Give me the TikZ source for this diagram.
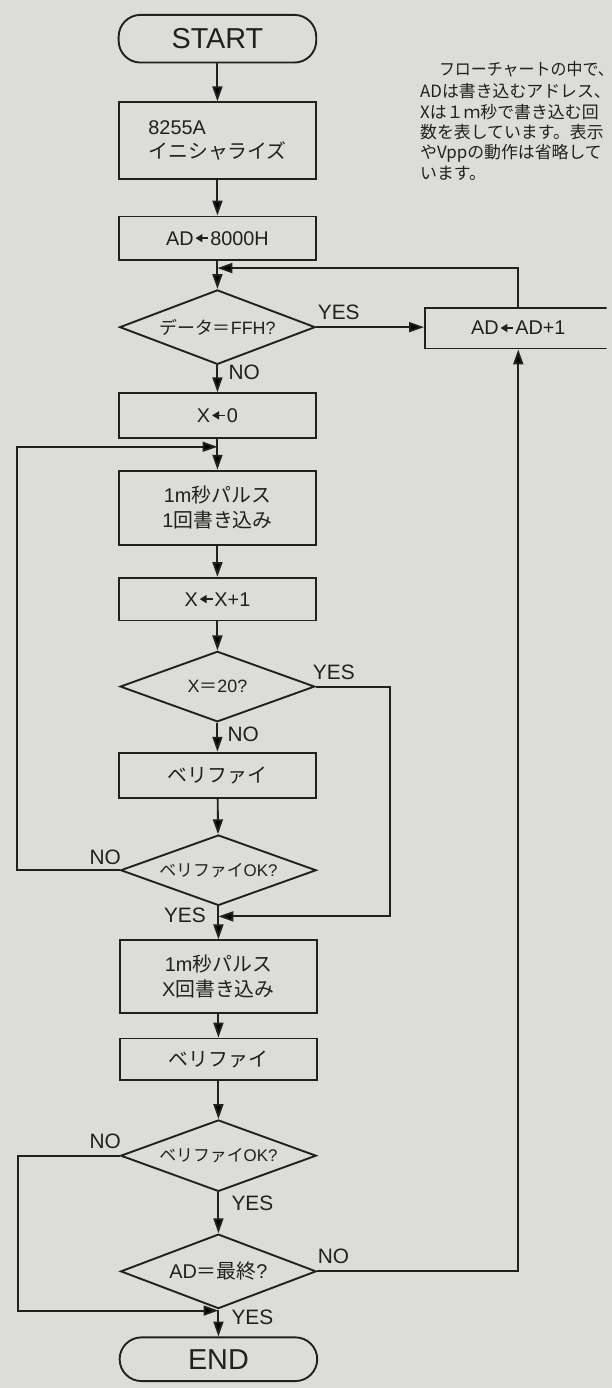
\documentclass[tikz,border=0pt]{standalone}
\usepackage{fontspec}
\usepackage{graphicx}
\setmainfont{Liberation Sans}
\newfontfamily\jp{Noto Sans CJK JP}
\usetikzlibrary{shapes.geometric,arrows.meta}
\definecolor{paper}{RGB}{220,220,217}
\definecolor{ink}{RGB}{32,32,32}
\newcommand{\la}{\kern1pt\tikz[x=1pt,y=1pt,baseline=-7pt]{\draw[ink,line width=1.8pt,{Triangle[length=7pt,width=8pt]}-] (0,0)--(13,0);}\kern1pt}
\newcommand{\J}[1]{{\jp #1}}
\begin{document}
\begin{tikzpicture}[x=1pt,y=-1pt,
  box/.style={draw=ink, line width=1.9pt, rectangle, minimum width=199pt, inner sep=0pt,
    font=\fontsize{20}{24}\selectfont, text=ink, align=center},
  term/.style={box, rounded corners=22pt, font=\fontsize{29}{32}\selectfont},
  dia/.style={draw=ink, line width=1.9pt, diamond, aspect=2.7, inner sep=0pt, minimum width=197pt,
    font=\fontsize{18}{22}\selectfont, text=ink},
  lbl/.style={font=\fontsize{21}{24}\selectfont, text=ink, inner sep=0pt, anchor=west},
  note/.style={font=\jp\fontsize{17}{21}\selectfont, text=ink, inner sep=0pt, anchor=base west},
  arr/.style={draw=ink, line width=1.9pt, -{Triangle[length=15pt,width=10pt]}},
  ln/.style={draw=ink, line width=1.9pt}]
\fill[paper] (-5,-5) rectangle (611,1393);
\useasboundingbox (0,0) rectangle (606,1388);
\begin{scope}
\clip (0,0) rectangle (606,1388);
% nodes
\node[term, minimum height=48pt] (start) at (214,34) {START};
\node[box, minimum height=77pt, text width=139pt, align=left, inner xsep=30pt] (init) at (214,136.5) {8255A\\\J{イニシャライズ}};
\node[box, minimum height=44pt] (ad8000) at (214,235) {AD\la8000H};
\coordinate (c1) at (214,265);
\node[dia, minimum height=75pt] (d1) at (214,324.5) {\J{データ＝}FFH?};
\node[box, minimum width=188pt, minimum height=41pt] (adinc) at (517,325.5) {AD\la AD+1};
\node[box, minimum height=45pt] (x0) at (214,413.5) {X\la0};
\coordinate (c2) at (214,445);
\node[box, minimum height=75pt, font=\fontsize{20}{25}\selectfont] (p1) at (214,506.5) {1m\J{秒パルス}\\1\J{回書き込み}};
\node[box, minimum height=43pt] (xinc) at (214,598.5) {X\la X+1};
\node[dia, minimum width=196pt, minimum height=71pt] (d2) at (214,686.5) {X\J{＝}20?};
\node[box, minimum height=46pt] (v1) at (214,776) {\J{ベリファイ}};
\node[dia, minimum height=71pt, font=\fontsize{17}{20}\selectfont] (d3) at (215,871.5) {\J{ベリファイ}OK?};
\coordinate (c3) at (215,918);
\node[box, minimum height=73pt, font=\fontsize{20}{25}\selectfont] (p2) at (215,978.5) {1m\J{秒パルス}\\X\J{回書き込み}};
\node[box, minimum height=42pt] (v2) at (215,1062) {\J{ベリファイ}};
\node[dia, minimum height=72pt, font=\fontsize{17}{20}\selectfont] (d4) at (215,1159) {\J{ベリファイ}OK?};
\node[dia, minimum height=75pt, font=\fontsize{20}{22}\selectfont] (d5) at (215,1275.5) {AD\J{＝最終}?};
\coordinate (c4) at (215,1315);
\node[term, minimum height=44pt] (end) at (215,1364) {END};
% connectors
\draw[arr] (start) -- (init);
\draw[arr] (init) -- (ad8000);
\draw[arr] (ad8000) -- (d1);
\draw[arr] (adinc.north) |- (c1);
\draw[arr] (d1.east) -- (d1.east -| adinc.west);
\draw[arr] (d1) -- (x0);
\draw[arr] (x0) -- (p1);
\draw[arr] (p1) -- (xinc);
\draw[arr] (xinc) -- (d2);
\coordinate (c3r) at (388,918);
\draw[arr] (d2.east) -| (c3r) -- (c3);
\draw[arr] (d2) -- (v1);
\draw[arr] (v1) -- (d3);
\coordinate (c2l) at (12,445);
\draw[arr] (d3.west) -| (c2l) -- (c2);
\draw[arr] (d3) -- (p2);
\draw[arr] (p2) -- (v2);
\draw[arr] (v2) -- (d4);
\coordinate (c4l) at (13,1315);
\draw[arr] (d4.west) -| (c4l) -- (c4);
\draw[arr] (d4) -- (d5);
\draw[arr] (d5.east) -| (adinc.south);
\draw[arr] (d5) -- (end);
% labels
\node[lbl] (y1) at (315,310) {YES};
\node[lbl] (n1) at (225,370) {NO};
\node[lbl] (y2) at (310,672) {YES};
\node[lbl] (n2) at (224,735) {NO};
\node[lbl] (n3) at (85,858) {NO};
\node[lbl] (y3) at (160,917) {YES};
\node[lbl] (n4) at (85,1145) {NO};
\node[lbl] (y4) at (228,1207) {YES};
\node[lbl] (n5) at (315,1260) {NO};
\node[lbl] (y5) at (228,1322) {YES};
% note
\node[note] (t1) at (437,71.5) {\resizebox{176pt}{\height}{フローチャートの中で、}};
\node[note] (t2) at (418,93) {ADは書き込むアドレス、};
\node[note] (t3) at (418,114) {Xは１ｍ秒で書き込む回};
\node[note] (t4) at (418,134.5) {数を表しています。表示};
\node[note] (t5) at (418,155) {やVppの動作は省略して};
\node[note] (t6) at (418,176) {います。};
\end{scope}
\end{tikzpicture}
\end{document}
